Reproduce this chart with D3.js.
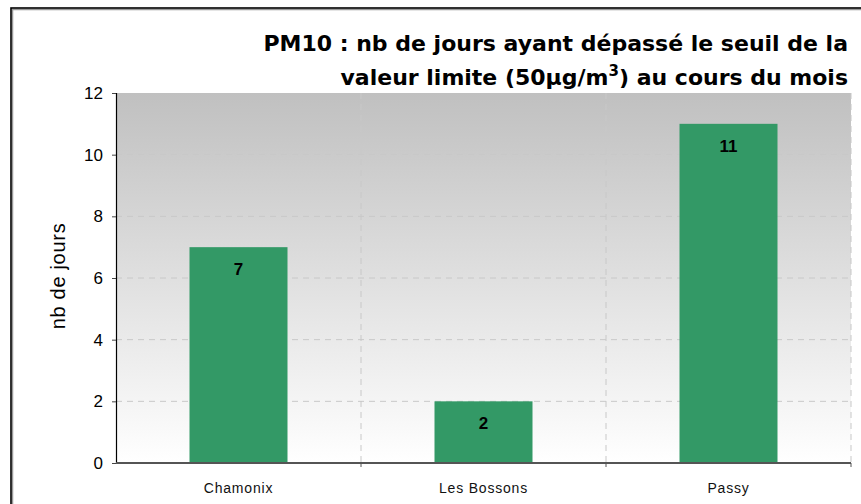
<!DOCTYPE html>
<html>
<head>
<meta charset="utf-8">
<script src="https://cdn.jsdelivr.net/npm/d3@7"></script>
<style>
  body { margin: 0; background: #fff; }
  svg { display: block; }
</style>
</head>
<body>
<div class="chart"></div>
<script>
// données
const stations = ["Chamonix", "Les Bossons", "Passy"];
const nbJours = [7, 2, 11];
const yTicks = [0, 2, 4, 6, 8, 10, 12];

const W = 861, H = 504;
const margin = { top: 93, right: 10, bottom: 41, left: 116 };
const width = 851 - margin.left;
const height = 463 - margin.top;

const svg = d3.select(".chart").append("svg")
    .attr("width", W)
    .attr("height", H);

// cadre extérieur
svg.append("rect")
    .attr("x", 12.5).attr("y", 9.5)
    .attr("width", W).attr("height", H)
    .attr("fill", "none").attr("stroke", "#999").attr("stroke-width", 1.5);
svg.append("rect")
    .attr("x", 11).attr("y", 8)
    .attr("width", W).attr("height", H)
    .attr("fill", "none").attr("stroke", "#000").attr("stroke-width", 1.6);

// dégradé du fond
const defs = svg.append("defs");
const grad = defs.append("linearGradient")
    .attr("id", "bg").attr("x1", 0).attr("y1", 0).attr("x2", 0).attr("y2", 1);
grad.append("stop").attr("offset", "0%").attr("stop-color", "#c0c0c0");
grad.append("stop").attr("offset", "100%").attr("stop-color", "#ffffff");

const g = svg.append("g").attr("transform", `translate(${margin.left},${margin.top})`);

g.append("rect")
    .attr("width", width).attr("height", height)
    .attr("fill", "url(#bg)");

const x = d3.scaleBand().domain(stations).range([0, width]).paddingInner(0).paddingOuter(0);
const y = d3.scaleLinear().domain([0, 12]).range([height, 0]);

// grille horizontale
g.selectAll(".hgrid")
    .data(yTicks.filter(d => d > 0 && d < 12))
    .enter().append("line")
    .attr("x1", 0).attr("x2", width)
    .attr("y1", d => y(d)).attr("y2", d => y(d))
    .attr("stroke", "#c8c8c8").attr("stroke-dasharray", "6,5");

// grille verticale (séparations des catégories)
g.selectAll(".vgrid")
    .data(stations.slice(1).concat(["__end"]))
    .enter().append("line")
    .attr("x1", (d, i) => i < 2 ? x(d) : width)
    .attr("x2", (d, i) => i < 2 ? x(d) : width)
    .attr("y1", 0).attr("y2", height)
    .attr("stroke", "#c8c8c8").attr("stroke-dasharray", "6,5");

// barres
const barW = x.bandwidth() * 0.4;
g.selectAll(".bar")
    .data(stations)
    .enter().append("rect")
    .attr("x", d => x(d) + (x.bandwidth() - barW) / 2)
    .attr("y", (d, i) => y(nbJours[i]))
    .attr("width", barW)
    .attr("height", (d, i) => height - y(nbJours[i]))
    .attr("fill", "#339966");

// étiquettes des valeurs
g.selectAll(".val")
    .data(stations)
    .enter().append("text")
    .attr("x", d => x(d) + x.bandwidth() / 2)
    .attr("y", (d, i) => y(nbJours[i]) + 28)
    .attr("text-anchor", "middle")
    .style("font-family", "Liberation Sans, Arial, sans-serif")
    .style("font-weight", "bold")
    .style("font-size", "17px")
    .attr("fill", "#000")
    .text((d, i) => nbJours[i]);

// axe Y
const yAxis = d3.axisLeft(y).tickValues(yTicks).tickSize(4).tickPadding(9);
const ya = g.append("g").call(yAxis);
ya.select(".domain").attr("stroke", "#000").attr("stroke-width", 1.2);
ya.selectAll(".tick line").attr("stroke", "#444");
ya.selectAll("text")
    .style("font-family", "Liberation Sans, Arial, sans-serif")
    .style("font-size", "17px")
    .attr("fill", "#000");

// axe X
const xa = g.append("g").attr("transform", `translate(0,${height})`);
xa.append("line")
    .attr("x1", 0).attr("x2", width)
    .attr("stroke", "#555").attr("stroke-width", 1.8);
xa.selectAll(".xtick")
    .data(stations.slice(1).concat(["__end"]))
    .enter().append("line")
    .attr("x1", (d, i) => i < 2 ? x(d) : width)
    .attr("x2", (d, i) => i < 2 ? x(d) : width)
    .attr("y1", 0).attr("y2", 4)
    .attr("stroke", "#555");
xa.selectAll(".xlab")
    .data(stations)
    .enter().append("text")
    .attr("x", d => x(d) + x.bandwidth() / 2)
    .attr("y", 30)
    .attr("text-anchor", "middle")
    .style("font-family", "Liberation Sans, Arial, sans-serif")
    .style("font-size", "14px")
    .style("letter-spacing", "0.8px")
    .attr("fill", "#111")
    .text(d => d);

// titre de l'axe Y
svg.append("text")
    .attr("transform", `translate(65,${margin.top + height / 2 - 2}) rotate(-90)`)
    .attr("text-anchor", "middle")
    .style("font-family", "Liberation Sans, Arial, sans-serif")
    .style("font-size", "20px")
    .style("letter-spacing", "0.7px")
    .attr("fill", "#000")
    .text("nb de jours");

// titre
const titleStyle = t => t
    .attr("text-anchor", "end")
    .style("font-family", "DejaVu Sans, Verdana, sans-serif")
    .style("font-weight", "bold")
    .style("font-size", "22px")
    .attr("fill", "#000");

svg.append("text").call(titleStyle)
    .attr("x", 848).attr("y", 51)
    .text("PM10 : nb de jours ayant dépassé le seuil de la");

const t2 = svg.append("text").call(titleStyle)
    .attr("x", 848).attr("y", 85);
t2.append("tspan").text("valeur limite (50µg/m");
t2.append("tspan").attr("dy", -9).style("font-size", "15px").text("3");
t2.append("tspan").attr("dy", 9).text(") au cours du mois");
</script>
</body>
</html>
